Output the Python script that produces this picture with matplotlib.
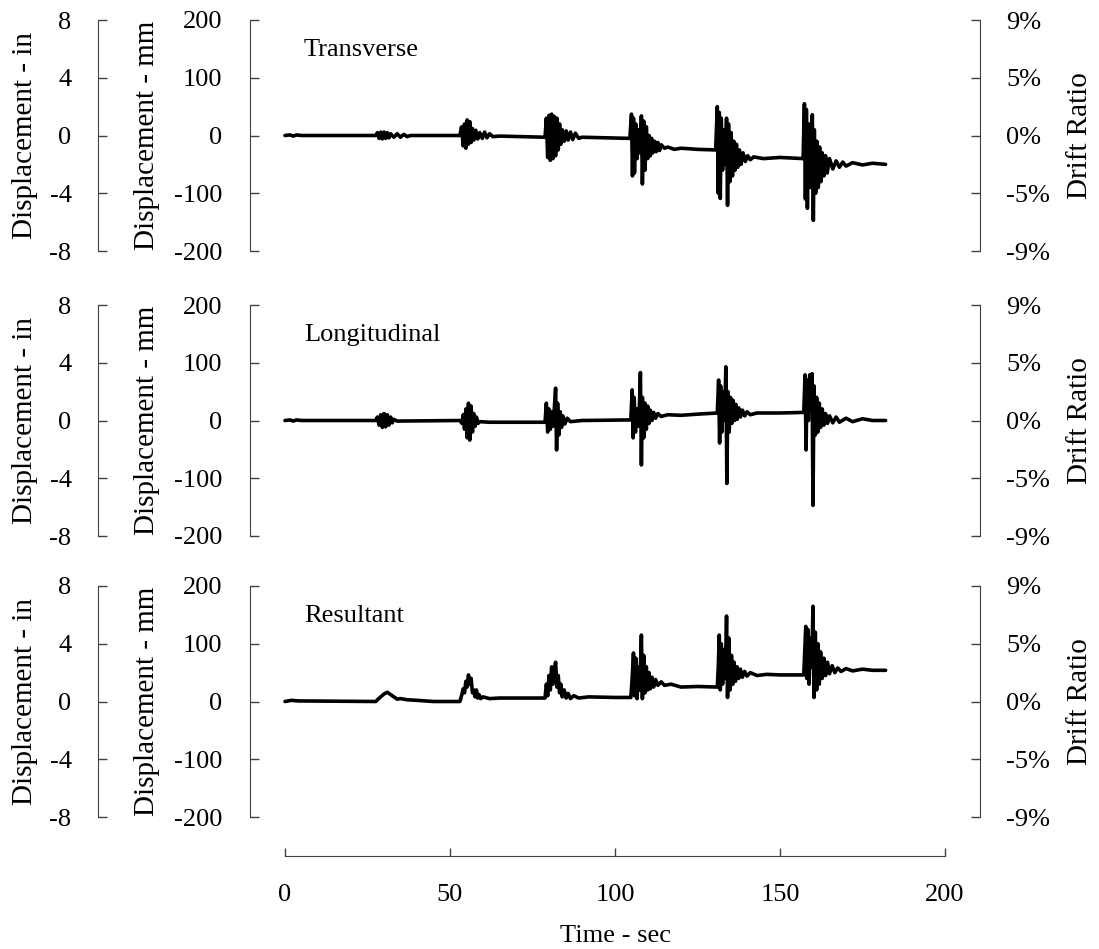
import numpy as np
import matplotlib.pyplot as plt

plt.rcParams['font.family'] = ['Liberation Serif', 'DejaVu Serif']
plt.rcParams['font.size'] = 19
plt.rcParams['axes.unicode_minus'] = False

W, H = 1099, 949

# ------------------------------------------------------------
# data: time in s, displacement in mm
# ------------------------------------------------------------
trans_t = [0, 1.5, 2.5, 3.5, 5, 27.5, 28, 28.5, 29, 29.5, 30, 30.5, 31, 31.5, 32, 33, 34, 35, 36, 37, 38,
           53, 53.5, 54, 54.4, 54.8, 55.2, 55.6, 56, 56.4, 56.8, 57.2, 57.8, 58.4, 59, 59.8, 60.5, 61.2, 62, 63, 65,
           78.8, 79.2, 79.6, 80, 80.4, 80.8, 81.2, 81.6, 82, 82.4, 82.8, 83.2, 83.6, 84, 84.6, 85.2, 85.8, 86.5, 87.2,
           88, 89, 90,
           104.5, 105, 105.3, 105.6, 105.9, 106.3, 106.7, 107.2, 107.6, 108, 108.3, 108.7, 109.1, 109.5, 109.9,
           110.3, 110.7, 111.1, 111.5, 112, 112.5, 113, 113.5, 114, 115, 116, 118, 120, 125, 130.5,
           131, 131.3, 131.6, 131.9, 132.2, 132.6, 133, 133.4, 133.8, 134.1, 134.4, 134.8, 135.2, 135.6, 136, 136.4,
           136.8, 137.2, 137.7, 138.2, 138.8, 139.5, 140.2, 141, 142, 145, 150, 157,
           157.4, 157.7, 158, 158.3, 158.7, 159.1, 159.5, 159.8, 160.1, 160.4, 160.8, 161.2, 161.6, 162, 162.4,
           162.8, 163.3, 163.8, 164.3, 165, 166, 167, 168, 169, 170, 172, 175, 178, 182]
trans_v = [0, 1, -1, 1, 0, 0, 5, -5, 6, -6, 6, -5, 5, -4, 3, -3, 3, -3, 2, -2, 0,
           0, 15, -18, 20, -22, 27, -15, 24, -12, 12, -8, 9, -6, 5, -5, 6, -4, 3, -2, -1,
           -3, 30, -38, 35, -43, 37, -40, 33, -35, 30, -25, 20, -15, 10, -10, 8, -8, 6, -7,
           4, -5, -3,
           -5, 37, -70, 30, -65, 20, -40, 10, -30, 34, -84, 25, -60, 15, -40,
           0, -35, -5, -30, -10, -28, -12, -26, -16, -22, -20, -24, -22, -24, -25,
           50, -100, 40, -109, 30, -60, 10, -50, 30, -121, 20, -80, 5, -70, -10, -60,
           -15, -55, -25, -50, -30, -45, -35, -42, -37, -40, -38, -40,
           55, -110, 45, -126, 20, -90, 10, 36, -147, 10, -100, -10, -90, -20, -80,
           -30, -70, -35, -65, -40, -58, -44, -55, -46, -53, -47, -51, -48, -50]

long_t = [0, 1.5, 2.5, 3.5, 5, 27.5, 28, 28.5, 29, 29.5, 30, 30.5, 31, 31.5, 32, 32.5, 33, 34, 53,
          53.6, 54, 54.4, 54.8, 55.2, 55.6, 56, 56.4, 56.8, 57.2, 57.6, 58, 58.5, 59, 62, 70, 78.8,
          79.2, 79.6, 80, 80.4, 80.8, 81.2, 81.6, 82, 82.3, 82.6, 83, 83.4, 83.8, 84.2, 84.8, 85.5, 86.5, 90, 104.8,
          105.2, 105.5, 105.8, 106.2, 106.6, 107, 107.4, 107.7, 108, 108.3, 108.7, 109.1, 109.5, 109.9, 110.3,
          110.7, 111.2, 111.7, 112.3, 113, 114, 116, 120, 125, 131,
          131.4, 131.7, 132, 132.4, 132.8, 133.2, 133.6, 133.9, 134.2, 134.6, 135, 135.4, 135.8, 136.2, 136.6,
          137, 137.5, 138, 138.6, 139.3, 140, 141, 143, 150, 157.2,
          157.6, 157.9, 158.2, 158.6, 159, 159.4, 159.7, 160, 160.3, 160.7, 161.1, 161.5, 161.9, 162.3, 162.8,
          163.3, 163.8, 164.4, 165, 166, 167, 168, 170, 172, 175, 178, 182]
long_v = [0, 1, -1, 1, 0, 0, 6, -8, 10, -12, 12, -11, 10, -8, 6, -4, 2, -1, 0,
          -5, 10, -15, 20, -30, 30, -34, 25, -20, 12, -10, 6, -5, -2, -3, -3, -3,
          30, -20, 20, -15, 15, -10, 20, 56, -51, 30, -25, 15, -12, 8, -6, 4, -2, 0, 1,
          53, -30, 40, -20, 20, -10, 25, 83, -77, 40, -30, 30, -15, 25, -5,
          18, 0, 14, 4, 12, 7, 10, 9, 11, 13,
          70, -39, 60, -20, 50, 0, 93, -109, 50, -20, 40, -5, 35, 0, 28,
          2, 22, 6, 18, 8, 15, 10, 13, 13, 14,
          79, -51, 70, 0, 79, 30, 81, -147, 60, -25, 40, -20, 30, -12, 20,
          -8, 12, -5, 8, -4, 6, -3, 4, -2, 3, 0, 0]

res_t = [0, 2, 4, 27.5, 28, 29, 30, 31, 32, 33, 34, 35, 37, 40, 45, 53,
         53.5, 54, 54.4, 54.8, 55.2, 55.6, 56, 56.4, 56.8, 57.2, 57.6, 58, 58.4, 58.8, 59.3, 60, 62, 65, 70, 78.8,
         79.2, 79.6, 80, 80.4, 80.8, 81.2, 81.6, 82, 82.4, 82.8, 83.2, 83.6, 84, 84.6, 85.2, 85.8, 86.5, 87.5, 89,
         92, 100, 104.8,
         105.2, 105.6, 105.9, 106.3, 106.7, 107.1, 107.5, 108, 108.3, 108.7, 109.1, 109.5, 109.9, 110.3, 110.7,
         111.2, 111.7, 112.3, 113, 114, 115, 117, 120, 125, 131,
         131.3, 131.6, 131.9, 132.2, 132.6, 133, 133.4, 133.8, 134.1, 134.5, 134.9, 135.3, 135.7, 136.1, 136.5,
         137, 137.5, 138, 138.6, 139.3, 140, 141, 143, 146, 150, 157.2,
         157.5, 157.8, 158.1, 158.4, 158.8, 159.2, 159.6, 160, 160.3, 160.7, 161.1, 161.5, 161.9, 162.3, 162.8,
         163.3, 163.8, 164.4, 165, 165.8, 166.6, 167.5, 168.5, 170, 172, 175, 178, 182]
res_v = [0, 2, 1, 0, 3, 8, 13, 16, 12, 8, 4, 5, 3, 2, 0, 0,
         10, 22, 15, 35, 25, 46, 30, 40, 15, 20, 8, 20, 6, 12, 5, 8, 5, 6, 6, 6,
         30, 10, 45, 20, 60, 30, 55, 68, 25, 45, 15, 30, 8, 20, 6, 14, 5, 10, 6,
         8, 7, 7,
         40, 84, 10, 75, 5, 60, 20, 115, 5, 80, 15, 60, 20, 50, 22,
         42, 25, 38, 28, 34, 28, 30, 25, 26, 25,
         60, 115, 20, 100, 30, 90, 40, 148, 7, 110, 20, 80, 30, 68, 35,
         60, 40, 56, 42, 52, 44, 50, 45, 47, 46, 46,
         90, 130, 40, 125, 30, 110, 60, 165, 7, 120, 20, 100, 30, 86, 40,
         75, 45, 68, 48, 62, 50, 58, 52, 57, 53, 56, 54, 54]

PANELS = [('Transverse', trans_t, trans_v),
          ('Longitudinal', long_t, long_v),
          ('Resultant', res_t, res_v)]

MM_TICKS = [-200, -100, 0, 100, 200]
IN_TICKS = [-8, -4, 0, 4, 8]
DRIFT_LABELS = ['-9%', '-5%', '0%', '5%', '9%']
TIME_TICKS = [0, 50, 100, 150, 200]

SPINE = '#404040'
YLABEL_SIZE = 21
PANEL_TOPS = [20, 305, 586]
PANEL_H = 231
AX_L, AX_R = 250, 980
X0, X200 = 285, 945
px_per_s = (X200 - X0) / 200.0
XLIM = (-(X0 - AX_L) / px_per_s, 200 + (AX_R - X200) / px_per_s)


def style_ticks(axis_obj, pad):
    axis_obj.set_tick_params(direction='in', length=6.5, width=1, color=SPINE, pad=pad, labelcolor='black')


fig = plt.figure(figsize=(W / 100, H / 100), dpi=100)

for (name, t, v), top in zip(PANELS, PANEL_TOPS):
    rect = [AX_L / W, (H - top - PANEL_H) / H, (AX_R - AX_L) / W, PANEL_H / H]
    ax = fig.add_axes(rect)
    ax.plot(t, v, color='black', lw=2.6, solid_joinstyle='round', solid_capstyle='round')
    ax.set_xlim(*XLIM)
    ax.set_ylim(-200, 200)
    ax.set_xticks([])
    ax.set_yticks(MM_TICKS)
    for s in ['top', 'bottom', 'right']:
        ax.spines[s].set_visible(False)
    ax.spines['left'].set_color(SPINE)
    style_ticks(ax.yaxis, 20)
    ax.set_ylabel('Displacement - mm', fontsize=YLABEL_SIZE)
    ax.yaxis.set_label_coords((147 - AX_L) / (AX_R - AX_L), 0.5)
    ax.yaxis.label.set_va('center')
    ax.text((304 - AX_L) / (AX_R - AX_L), 1 - 30 / PANEL_H, name, ha='left', va='center',
            transform=ax.transAxes)
    ax.patch.set_visible(False)

    # outer inch axis
    ax_in = ax.twinx()
    ax_in.set_ylim(-8, 8)
    ax_in.set_yticks(IN_TICKS)
    ax_in.yaxis.set_ticks_position('left')
    ax_in.yaxis.set_label_position('left')
    for s in ['top', 'bottom', 'right']:
        ax_in.spines[s].set_visible(False)
    ax_in.spines['left'].set_position(('axes', (98 - AX_L) / (AX_R - AX_L)))
    ax_in.spines['left'].set_color(SPINE)
    style_ticks(ax_in.yaxis, 19)
    ax_in.set_ylabel('Displacement - in', fontsize=YLABEL_SIZE)
    ax_in.yaxis.set_label_coords((25 - AX_L) / (AX_R - AX_L), 0.5)
    ax_in.yaxis.label.set_va('center')

    # drift ratio axis
    ax_d = ax.twinx()
    ax_d.set_ylim(-200, 200)
    ax_d.set_yticks(MM_TICKS, DRIFT_LABELS)
    for s in ['top', 'bottom', 'left']:
        ax_d.spines[s].set_visible(False)
    ax_d.spines['right'].set_color(SPINE)
    style_ticks(ax_d.yaxis, 19)
    ax_d.set_ylabel('Drift Ratio', fontsize=YLABEL_SIZE)
    ax_d.yaxis.set_label_coords((1080 - AX_L) / (AX_R - AX_L), 0.5)
    ax_d.yaxis.label.set_va('center')

# shared time axis below the panels
ax_t = fig.add_axes([X0 / W, (H - 856) / H, (X200 - X0) / W, 0.001])
ax_t.set_xlim(0, 200)
ax_t.set_xticks(TIME_TICKS)
ax_t.set_yticks([])
for s in ['top', 'left', 'right']:
    ax_t.spines[s].set_visible(False)
ax_t.spines['bottom'].set_color(SPINE)
ax_t.xaxis.set_tick_params(direction='in', length=6, width=1, color=SPINE, pad=20, labelcolor='black')
ax_t.patch.set_visible(False)
ax_t.set_xlabel('Time - sec', labelpad=14)

fig.savefig('out.png', dpi=100)
